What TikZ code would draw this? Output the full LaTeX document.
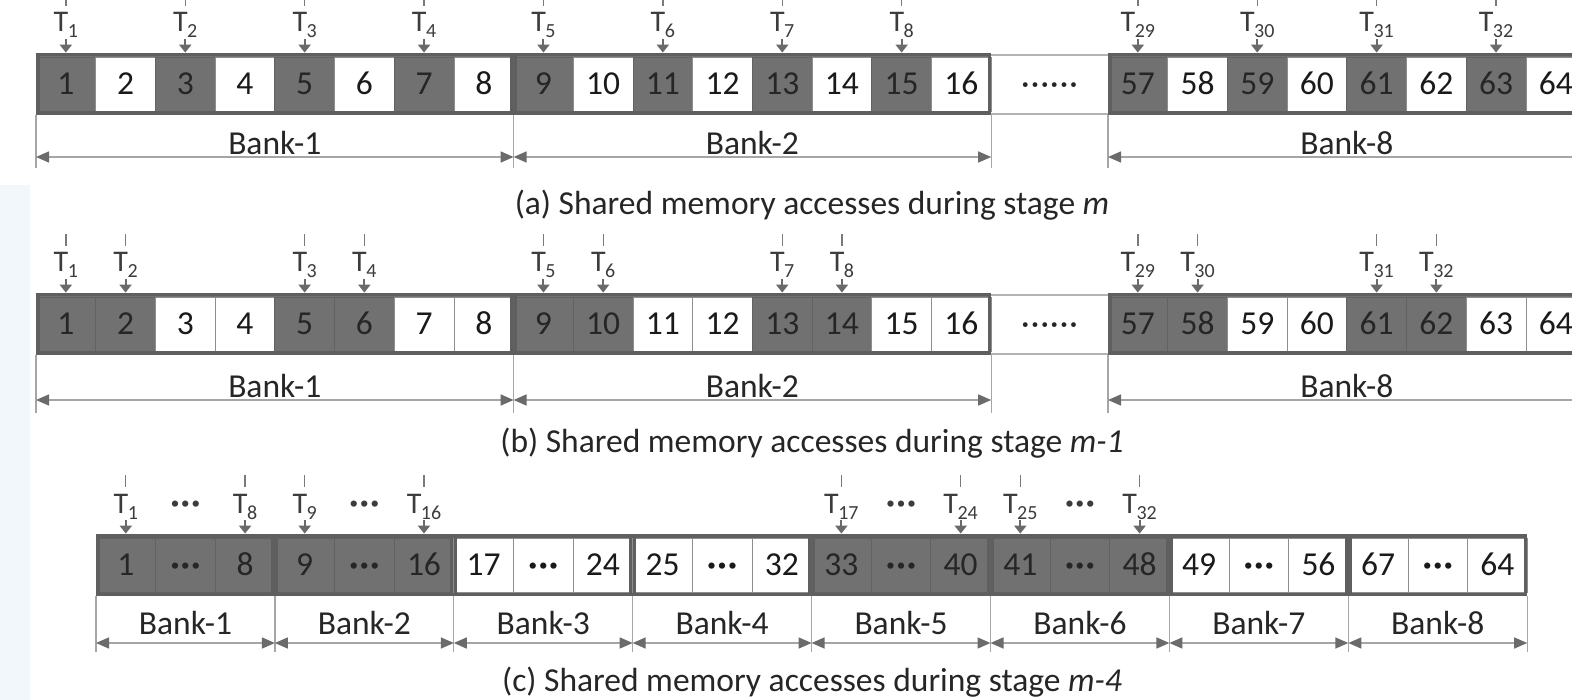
\documentclass[tikz,border=0pt]{standalone}
\usepackage{fontspec}
\setmainfont{Carlito}
\usetikzlibrary{arrows.meta}

\definecolor{cellgray}{HTML}{717171}
\definecolor{framegray}{HTML}{5F5F5F}
\definecolor{filld}{HTML}{717171}
\definecolor{fillw}{HTML}{FFFFFF}
\definecolor{lined}{HTML}{626262}
\definecolor{linew}{HTML}{8E8E8E}
\definecolor{textd}{HTML}{262626}
\definecolor{textw}{HTML}{1A1A1A}
\definecolor{dimgray}{HTML}{A6A6A6}
\definecolor{tipgray}{HTML}{6B6B6B}
\definecolor{arrowgray}{HTML}{6A6A6A}
\definecolor{tickgray}{HTML}{7A7A7A}
\definecolor{labtext}{HTML}{262626}
\definecolor{tgray}{HTML}{3C3C3C}
\definecolor{gapgray}{HTML}{B3B3B3}
\definecolor{stripblue}{HTML}{F2F7FC}

\newcommand{\numfont}{\fontsize{33.5}{38}\selectfont}
\newcommand{\tfont}{\fontsize{30}{32}\selectfont}
\newcommand{\Tsub}[1]{T\kern-0.5pt\raisebox{-6pt}{\fontsize{20}{20}\selectfont #1}}
\newcommand{\celldots}{{\bfseries ·\kern1.5pt·\kern1.5pt·}}
\newcommand{\gapdots}{·\kern1.2pt·\kern1.2pt·\kern1.2pt·\kern1.2pt·\kern1.2pt·}

\def\cw{59.7}
\def\cwc{59.63}

\tikzset{
  cell/.style={rectangle, minimum width=\cw pt, minimum height=54pt, inner sep=0pt,
    line width=0.8pt, font=\numfont, text height=21pt, text depth=0pt},
  bankframe/.style={draw=framegray, line width=3.5pt},
  dimline/.style={draw=dimgray, line width=1.5pt,
    arrows={Triangle[length=13pt,width=11pt,color=tipgray]-Triangle[length=13pt,width=11pt,color=tipgray]}},
  extl/.style={draw=dimgray, line width=1.2pt},
  tickmark/.style={draw=tickgray, line width=1.3pt},
  tarrow/.style={draw=arrowgray, line width=2pt, -{Triangle[length=8pt,width=12pt]}},
  tlabel/.style={anchor=base, inner sep=1pt, font=\tfont, text=tgray},
  tdots/.style={anchor=base, inner sep=1pt, font=\numfont, text=tgray},
  gapbox/.style={rectangle, minimum width=116.8pt, minimum height=59pt, inner sep=0pt,
    font=\numfont, text=textd, text height=21pt, text depth=0pt},
  gapline/.style={draw=gapgray, line width=1.5pt},
  banklabel/.style={font=\numfont, text=labtext, inner sep=1pt},
  capt/.style={font=\numfont, text=labtext, inner sep=1pt},
}

% eight-cell bank: row letter, left x, top y, first number, cell kinds
\newcommand{\bigbank}[5]{%
  \fill[cellgray] (#2,#3) rectangle ({#2+8*\cw},{#3+62});
  \foreach \knd [count=\j from 0] in {#5}{%
    \pgfmathsetmacro\cx{#2+(\j+0.5)*\cw}%
    \pgfmathtruncatemacro\cnum{#4+\j}%
    \node[cell, fill=fill\knd, draw=line\knd, text=text\knd] (#1\cnum) at (\cx,{#3+31}) {\cnum};
  }
  \draw[bankframe] ({#2+1.75},{#3+1.75}) rectangle ({#2+8*\cw-1.75},{#3+60.25});
}

% three-cell bank: bank index, left x, top y, first, last, kind
\newcommand{\smallbank}[6]{%
  \fill[cellgray] (#2,#3) rectangle ({#2+3*\cwc},{#3+62});
  \node[cell, minimum width=\cwc pt, fill=fill#6, draw=line#6, text=text#6] (c#4) at ({#2+0.5*\cwc},{#3+31}) {#4};
  \node[cell, minimum width=\cwc pt, fill=fill#6, draw=line#6, text=text#6] (cd#1) at ({#2+1.5*\cwc},{#3+31}) {\celldots};
  \node[cell, minimum width=\cwc pt, fill=fill#6, draw=line#6, text=text#6] (c#5) at ({#2+2.5*\cwc},{#3+31}) {#5};
  \draw[bankframe] ({#2+1.75},{#3+1.75}) rectangle ({#2+3*\cwc-1.75},{#3+60.25});
}

% thread label with tick and arrow: node name, cell name, subscript, row top
\newcommand{\tlab}[4]{%
  \pgfmathsetmacro\ty{#4-21}%
  \node[tlabel] (#1) at (#2 |- 0,\ty) {\Tsub{#3}};
  \draw[tickmark] ([yshift=6pt]#1.north) -- ([yshift=18pt]#1.north);
  \draw[tarrow] (#1.south) -- ([yshift=4pt]#2.north);
}

% extension line: name, x, top y, bottom y
\newcommand{\extline}[4]{%
  \coordinate (#1t) at (#2,#3);
  \coordinate (#1b) at (#2,#4);
  \draw[extl] (#1t) -- (#1b);
}

% bank span arrow with its label: name, left, right, line y, label y, text
\newcommand{\dimspan}[6]{%
  \coordinate (#1L) at (#2,#4);
  \coordinate (#1R) at (#3,#4);
  \draw[dimline] (#1L) -- (#1R);
  \node[banklabel] (#1lab) at ({(#2+#3)/2},#5) {#6};
}

\begin{document}
\begin{tikzpicture}[x=1pt,y=-1pt]
\useasboundingbox (0,0) rectangle (1572,700);
\clip (0,0) rectangle (1572,700);
\fill[white] (0,0) rectangle (1572,700);
\fill[stripblue] (0,185) rectangle (30,700);

% ---------- (a) stage m ----------
\bigbank{a}{36}{53}{1}{d,w,d,w,d,w,d,w}
\bigbank{a}{513.6}{53}{9}{d,w,d,w,d,w,d,w}
\bigbank{a}{1108}{53}{57}{d,w,d,w,d,w,d,w}
\node[gapbox] (agap) at (1049.6,84.5) {\gapdots};
\draw[gapline] (agap.north west) -- (agap.north east);
\draw[gapline] (agap.south west) -- (agap.south east);

\tlab{Ta1}{a1}{1}{53}
\tlab{Ta2}{a3}{2}{53}
\tlab{Ta3}{a5}{3}{53}
\tlab{Ta4}{a7}{4}{53}
\tlab{Ta5}{a9}{5}{53}
\tlab{Ta6}{a11}{6}{53}
\tlab{Ta7}{a13}{7}{53}
\tlab{Ta8}{a15}{8}{53}
\tlab{Ta29}{a57}{29}{53}
\tlab{Ta30}{a59}{30}{53}
\tlab{Ta31}{a61}{31}{53}
\tlab{Ta32}{a63}{32}{53}

\extline{ae0}{36}{115}{168}
\extline{ae1}{513.6}{115}{168}
\extline{ae2}{991.2}{115}{168}
\extline{ae3}{1108}{115}{168}
\extline{ae4}{1585.6}{115}{168}
\dimspan{ab1}{36}{513.6}{157}{143}{Bank-1}
\dimspan{ab2}{513.6}{991.2}{157}{143}{Bank-2}
\dimspan{ab8}{1108}{1585.6}{157}{143}{Bank-8}

\node[capt] (capa) at (812,205) {(a) Shared memory accesses during stage \textit{m}};

% ---------- (b) stage m-1 ----------
\bigbank{b}{36}{293}{1}{d,d,w,w,d,d,w,w}
\bigbank{b}{513.6}{293}{9}{d,d,w,w,d,d,w,w}
\bigbank{b}{1108}{293}{57}{d,d,w,w,d,d,w,w}
\node[gapbox] (bgap) at (1049.6,324.5) {\gapdots};
\draw[gapline] (bgap.north west) -- (bgap.north east);
\draw[gapline] (bgap.south west) -- (bgap.south east);

\tlab{Tb1}{b1}{1}{293}
\tlab{Tb2}{b2}{2}{293}
\tlab{Tb3}{b5}{3}{293}
\tlab{Tb4}{b6}{4}{293}
\tlab{Tb5}{b9}{5}{293}
\tlab{Tb6}{b10}{6}{293}
\tlab{Tb7}{b13}{7}{293}
\tlab{Tb8}{b14}{8}{293}
\tlab{Tb29}{b57}{29}{293}
\tlab{Tb30}{b58}{30}{293}
\tlab{Tb31}{b61}{31}{293}
\tlab{Tb32}{b62}{32}{293}

\extline{be0}{36}{355}{413}
\extline{be1}{513.6}{355}{413}
\extline{be2}{991.2}{355}{413}
\extline{be3}{1108}{355}{413}
\extline{be4}{1585.6}{355}{413}
\dimspan{bb1}{36}{513.6}{400}{386}{Bank-1}
\dimspan{bb2}{513.6}{991.2}{400}{386}{Bank-2}
\dimspan{bb8}{1108}{1585.6}{400}{386}{Bank-8}

\node[capt] (capb) at (812,443) {(b) Shared memory accesses during stage \textit{m-1}};

% ---------- (c) stage m-4 ----------
\smallbank{1}{96}{534}{1}{8}{d}
\smallbank{2}{274.9}{534}{9}{16}{d}
\smallbank{3}{453.8}{534}{17}{24}{w}
\smallbank{4}{632.7}{534}{25}{32}{w}
\smallbank{5}{811.6}{534}{33}{40}{d}
\smallbank{6}{990.5}{534}{41}{48}{d}
\smallbank{7}{1169.4}{534}{49}{56}{w}
\smallbank{8}{1348.3}{534}{67}{64}{w}

\tlab{Tc1}{c1}{1}{534}
\tlab{Tc8}{c8}{8}{534}
\tlab{Tc9}{c9}{9}{534}
\tlab{Tc16}{c16}{16}{534}
\tlab{Tc17}{c33}{17}{534}
\tlab{Tc24}{c40}{24}{534}
\tlab{Tc25}{c41}{25}{534}
\tlab{Tc32}{c48}{32}{534}
\node[tdots] (tdc1) at (cd1 |- 0,513) {\celldots};
\node[tdots] (tdc2) at (cd2 |- 0,513) {\celldots};
\node[tdots] (tdc5) at (cd5 |- 0,513) {\celldots};
\node[tdots] (tdc6) at (cd6 |- 0,513) {\celldots};

\foreach \b/\x in {0/96,1/274.9,2/453.8,3/632.7,4/811.6,5/990.5,6/1169.4,7/1348.3,8/1527.2}{
  \extline{ce\b}{\x}{596}{652}
}
\foreach \b/\l/\r in {1/96/274.9,2/274.9/453.8,3/453.8/632.7,4/632.7/811.6,
                      5/811.6/990.5,6/990.5/1169.4,7/1169.4/1348.3,8/1348.3/1527.2}{
  \dimspan{cb\b}{\l}{\r}{643}{623}{Bank-\b}
}

\node[capt] (capc) at (812,682) {(c) Shared memory accesses during stage \textit{m-4}};
\end{tikzpicture}
\end{document}
